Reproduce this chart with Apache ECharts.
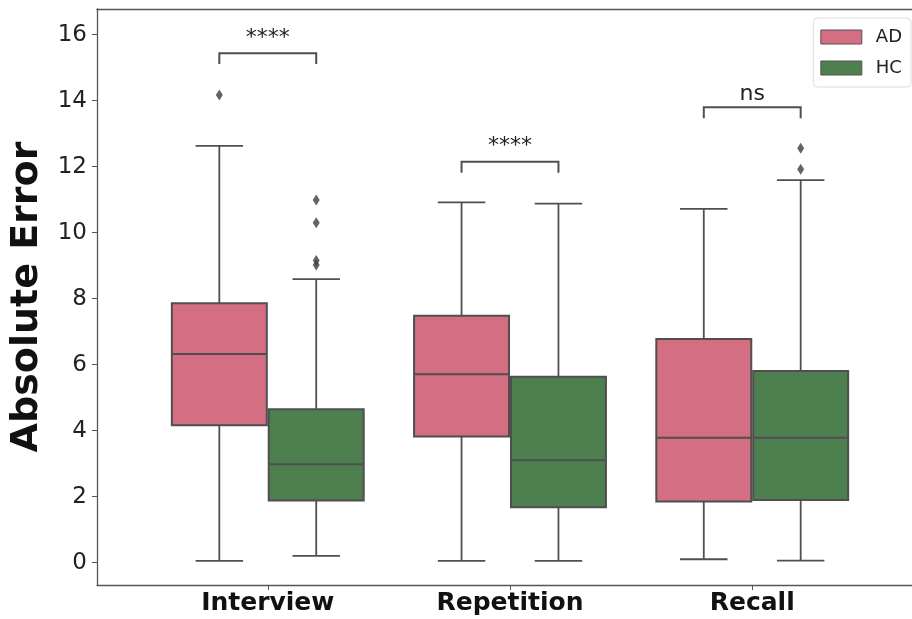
<!DOCTYPE html>
<html>
<head>
<meta charset="utf-8">
<script src="https://cdn.jsdelivr.net/npm/echarts@6/dist/echarts.min.js"></script>
<style>
  html, body { margin: 0; padding: 0; background: #fff; }
  #chart { width: 912px; height: 619px; }
</style>
</head>
<body>
<div id="chart"></div>
<script>
// Task categories on the x axis
const categories = ['Interview', 'Repetition', 'Recall'];
// Box statistics per category: [lower whisker, Q1, median, Q3, upper whisker]
const adStats = [
  [0.05, 4.16, 6.32, 7.86, 12.63],
  [0.05, 3.82, 5.71, 7.48, 10.92],
  [0.10, 1.85, 3.78, 6.78, 10.72]
];
const hcStats = [
  [0.20, 1.88, 2.98, 4.65, 8.59],
  [0.05, 1.68, 3.10, 5.63, 10.88],
  [0.06, 1.90, 3.78, 5.81, 11.59]
];
// Outliers: [category index, value]
const adOutliers = [[0, 14.17]];
const hcOutliers = [[0, 10.99], [0, 10.30], [0, 9.16], [0, 9.02], [2, 12.56], [2, 11.92]];
// Significance brackets: height per category and its label
const bracketLevels = [15.44, 12.15, 13.80];
const bracketLabels = ['****', '****', 'ns'];
// Y tick values
const yTicks = [0, 2, 4, 6, 8, 10, 12, 14, 16];

const AD_COLOR = '#d36e83';
const HC_COLOR = '#4e7f4f';
const LINE = '#4f4f4f';
const SPINE = { color: '#555', width: 1.3 };
const BOX_WIDTH = 0.392;
const HUE_OFFSET = 0.2;
const LEG = 0.33;
const X_MIN = -0.705, X_MAX = 2.705;

function boxData(stats) {
  return stats.map((s, i) => [i].concat(s));
}

function renderBox(offset, color) {
  return function (params, api) {
    const c = api.value(0) + offset;
    const lo = api.coord([c, api.value(1)]);
    const q1 = api.coord([c, api.value(2)]);
    const med = api.coord([c, api.value(3)]);
    const q3 = api.coord([c, api.value(4)]);
    const hi = api.coord([c, api.value(5)]);
    const half = api.size([BOX_WIDTH, 0])[0] / 2;
    const cap = half / 2;
    const x = q1[0];
    const ls = { stroke: LINE, lineWidth: 1.8 };
    return {
      type: 'group',
      children: [
        { type: 'line', shape: { x1: x, y1: q3[1], x2: x, y2: hi[1] }, style: ls },
        { type: 'line', shape: { x1: x, y1: q1[1], x2: x, y2: lo[1] }, style: ls },
        { type: 'line', shape: { x1: x - cap, y1: hi[1], x2: x + cap, y2: hi[1] }, style: ls },
        { type: 'line', shape: { x1: x - cap, y1: lo[1], x2: x + cap, y2: lo[1] }, style: ls },
        { type: 'rect', shape: { x: x - half, y: q3[1], width: half * 2, height: q1[1] - q3[1] },
          style: { fill: color, stroke: LINE, lineWidth: 2 } },
        { type: 'line', shape: { x1: x - half, y1: med[1], x2: x + half, y2: med[1] },
          style: { stroke: LINE, lineWidth: 2 } }
      ]
    };
  };
}

function renderBracket(params, api) {
  const cat = api.value(0);
  const level = api.value(1);
  const pL = api.coord([cat - HUE_OFFSET, level]);
  const pR = api.coord([cat + HUE_OFFSET, level]);
  const pLb = api.coord([cat - HUE_OFFSET, level - LEG]);
  const label = bracketLabels[params.dataIndex];
  return {
    type: 'group',
    children: [
      { type: 'polyline',
        shape: { points: [[pL[0], pLb[1]], pL, pR, [pR[0], pLb[1]]] },
        style: { stroke: LINE, lineWidth: 2, fill: null } },
      { type: 'text',
        x: (pL[0] + pR[0]) / 2,
        y: pL[1] - (label === 'ns' ? 2 : 4),
        style: { text: label, fill: '#222', font: '22px "DejaVu Sans"',
                 align: 'center', verticalAlign: 'bottom' } }
    ]
  };
}

const chart = echarts.init(document.getElementById('chart'), null, { renderer: 'canvas' });
chart.setOption({
  animation: false,
  textStyle: { fontFamily: 'DejaVu Sans' },
  grid: {
    left: 97, right: -11, top: 9, bottom: 34,
    containLabel: false, outerBoundsMode: 'none'
  },
  legend: {
    orient: 'vertical',
    right: 1, top: 18,
    padding: [10, 9, 10, 7],
    itemWidth: 41, itemHeight: 14, itemGap: 13,
    backgroundColor: '#fff',
    borderColor: '#dcdcdc', borderWidth: 1, borderRadius: 4,
    textStyle: { fontSize: 18, lineHeight: 16, color: '#222', fontFamily: 'DejaVu Sans',
                 padding: [0, 0, 0, 9] },
    data: [
      { name: 'AD', icon: 'rect', itemStyle: { color: AD_COLOR, borderColor: '#555', borderWidth: 1 } },
      { name: 'HC', icon: 'rect', itemStyle: { color: HC_COLOR, borderColor: '#555', borderWidth: 1 } }
    ]
  },
  xAxis: [
    {
      type: 'value', min: X_MIN, max: X_MAX,
      splitLine: { show: false },
      axisLine: { show: true, onZero: false, lineStyle: SPINE },
      axisTick: { show: true, length: 5, customValues: [0, 1, 2], lineStyle: { color: '#555' } },
      axisLabel: {
        customValues: [0, 1, 2],
        formatter: v => categories[Math.round(v)],
        fontSize: 25, fontWeight: 'bold', color: '#111', margin: 6
      }
    },
    {
      // top spine
      type: 'value', position: 'top', min: X_MIN, max: X_MAX,
      splitLine: { show: false },
      axisLine: { show: true, onZero: false, lineStyle: SPINE },
      axisTick: { show: false }, axisLabel: { show: false }
    }
  ],
  yAxis: {
    type: 'value', min: -0.68, max: 16.78,
    name: 'Absolute Error', nameLocation: 'middle', nameGap: 51,
    nameTextStyle: { fontSize: 38, fontWeight: 'bold', color: '#111' },
    splitLine: { show: false },
    axisLine: { show: true, onZero: false, lineStyle: SPINE },
    axisTick: { show: true, length: 5, customValues: yTicks, lineStyle: { color: '#555' } },
    axisLabel: { customValues: yTicks, fontSize: 23, color: '#222', margin: 10 }
  },
  series: [
    {
      name: 'AD', type: 'custom', itemStyle: { color: AD_COLOR },
      renderItem: renderBox(-HUE_OFFSET, AD_COLOR),
      encode: { x: 0, y: [1, 2, 3, 4, 5] },
      data: boxData(adStats), z: 2
    },
    {
      name: 'HC', type: 'custom', itemStyle: { color: HC_COLOR },
      renderItem: renderBox(HUE_OFFSET, HC_COLOR),
      encode: { x: 0, y: [1, 2, 3, 4, 5] },
      data: boxData(hcStats), z: 2
    },
    {
      name: 'AD outliers', type: 'scatter', symbol: 'diamond', symbolSize: [7, 11],
      itemStyle: { color: '#3d3d3d' },
      data: adOutliers.map(d => [d[0] - HUE_OFFSET, d[1]]), z: 3
    },
    {
      name: 'HC outliers', type: 'scatter', symbol: 'diamond', symbolSize: [7, 11],
      itemStyle: { color: '#3d3d3d' },
      data: hcOutliers.map(d => [d[0] + HUE_OFFSET, d[1]]), z: 3
    },
    {
      name: 'significance', type: 'custom',
      renderItem: renderBracket,
      encode: { x: 0, y: 1 },
      data: bracketLevels.map((lv, i) => [i, lv]), z: 4
    }
  ]
});
</script>
</body>
</html>
